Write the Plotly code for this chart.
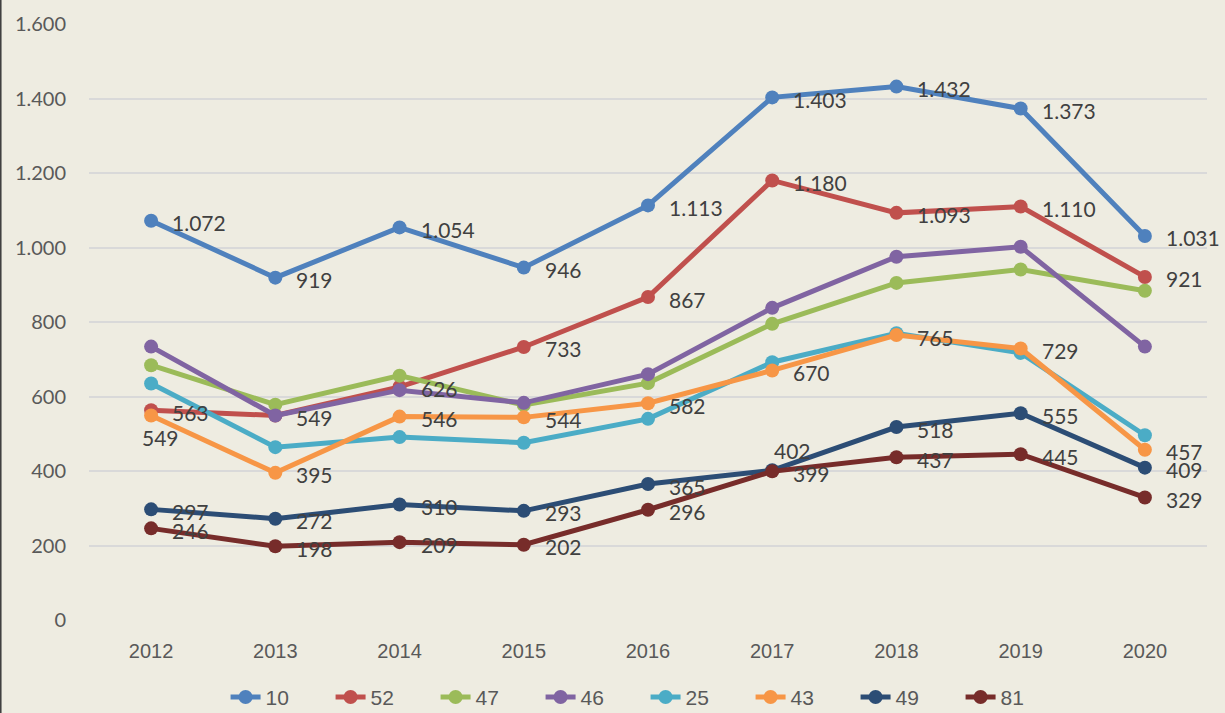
import plotly.graph_objects as go

# Categories and series values
years = ["2012", "2013", "2014", "2015", "2016", "2017", "2018", "2019", "2020"]
series_names = ["10", "52", "47", "46", "25", "43", "49", "81"]

s10 = [1072, 919, 1054, 946, 1113, 1403, 1432, 1373, 1031]
s52 = [563, 549, 626, 733, 867, 1180, 1093, 1110, 921]
s47 = [684, 578, 656, 577, 636, 795, 905, 941, 884]
s46 = [734, 549, 617, 583, 660, 838, 975, 1002, 734]
s25 = [635, 464, 491, 476, 540, 692, 770, 717, 496]
s43 = [549, 395, 546, 544, 582, 670, 765, 729, 457]
s49 = [297, 272, 310, 293, 365, 402, 518, 555, 409]
s81 = [246, 198, 209, 202, 296, 399, 437, 445, 329]

y_ticks = [0, 200, 400, 600, 800, 1000, 1200, 1400, 1600]

values = [s10, s52, s47, s46, s25, s43, s49, s81]
colors = ["#4F81BD", "#C0504D", "#9BBB59", "#8064A2",
          "#4BACC6", "#F79646", "#2C4D75", "#772C2A"]
labelled = {"10", "52", "43", "49", "81"}
# label placement overrides: (series, index) -> position
label_pos = {("43", 0): "below", ("49", 5): "above"}

BG = "#EEECE1"
ML, MR, MT, MB = 89, 18, 24, 93
W, H = 1225, 713
NARROW = "Liberation Sans Narrow, Arial Narrow, sans-serif"
LABEL_FONT = "Lato, Carlito, sans-serif"


def fmt(v):
    return f"{v:,}".replace(",", ".")


fig = go.Figure()
for name, vals, col in zip(series_names, values, colors):
    fig.add_trace(go.Scatter(
        x=years, y=vals, name=name, mode="lines+markers",
        line=dict(color=col, width=5),
        marker=dict(color=col, size=14),
        hoverinfo="skip",
    ))

annotations = []
for name, vals in zip(series_names, values):
    if name not in labelled:
        continue
    for i, v in enumerate(vals):
        pos = label_pos.get((name, i), "right")
        # category axis: place by category index
        a = dict(x=i, y=v, xref="x", yref="y", text=fmt(v), showarrow=False,
                 font=dict(family=LABEL_FONT, size=21, color="#404040"))
        if pos == "right":
            a.update(xanchor="left", yanchor="middle", xshift=19, yshift=-2)
        elif pos == "below":
            a.update(xanchor="center", yanchor="middle", xshift=9, yshift=-22)
        else:
            a.update(xanchor="left", yanchor="middle", xshift=0, yshift=20)
        annotations.append(a)

pw = W - ML - MR
fig.update_layout(
    width=W, height=H,
    margin=dict(l=ML, r=MR, t=MT, b=MB),
    paper_bgcolor=BG, plot_bgcolor=BG,
    separators=",.",
    showlegend=True,
    legend=dict(
        orientation="h", xref="container", yref="container",
        x=0.527, xanchor="center", y=0.022, yanchor="middle",
        font=dict(family=NARROW, size=21, color="#595959"),
        bgcolor="rgba(0,0,0,0)",
        entrywidth=60, entrywidthmode="pixels",
        itemwidth=30, tracegroupgap=0,
    ),
    xaxis=dict(
        type="category", range=[-0.5, 8.5],
        showgrid=False, zeroline=False, showline=False, ticks="",
        tickfont=dict(family=NARROW, size=20, color="#595959"),
        ticklabelstandoff=17,
    ),
    yaxis=dict(
        range=[0, 1600], tickvals=y_ticks, tickformat=",d",
        showgrid=True, gridcolor="#D9D9D9", gridwidth=2,
        zeroline=False, showline=False, ticks="",
        tickfont=dict(family=LABEL_FONT, size=20, color="#595959"),
        ticklabelstandoff=22,
    ),
    annotations=annotations,
    shapes=[dict(type="line", xref="paper", yref="paper",
                 x0=-ML / pw + 0.0005, x1=-ML / pw + 0.0005,
                 y0=-MB / (H - MT - MB), y1=1 + MT / (H - MT - MB),
                 line=dict(color="#404040", width=2))],
)

fig.write_html("out.html")
